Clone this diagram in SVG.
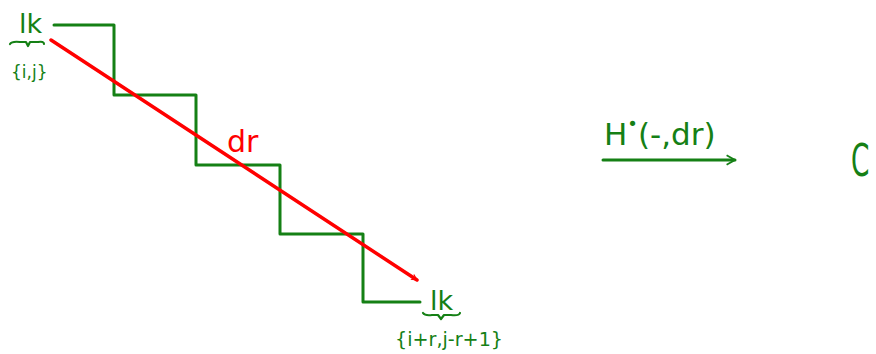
<svg xmlns="http://www.w3.org/2000/svg" width="876" height="354" viewBox="0 0 876 354">
<style>
.g{fill:none;stroke:#158015;stroke-width:3;stroke-linecap:round;stroke-linejoin:round}
.r{fill:none;stroke:#ff0000;stroke-width:3.5;stroke-linecap:round}
.tg{fill:#158015;font-family:"DejaVu Sans",sans-serif}
.tr{fill:#ff0000;font-family:"DejaVu Sans",sans-serif}
</style>
<defs>
<marker id="ar" viewBox="0 0 10 10" refX="9" refY="5" markerWidth="7" markerHeight="7" orient="auto" markerUnits="userSpaceOnUse">
<path d="M1,1 L9,5 L1,9" fill="none" stroke="#ff0000" stroke-width="1.6"/>
</marker>
<marker id="ag" viewBox="0 0 10 10" refX="9" refY="5" markerWidth="12" markerHeight="12" orient="auto" markerUnits="userSpaceOnUse">
<path d="M2,1 L9,5 L2,9" fill="none" stroke="#158015" stroke-width="1.5"/>
</marker>
</defs>
<g id="staircase">
<path class="g" d="M54,25 H114 V95 H196 V165 H280 V234 H363 V302 H420"/>
</g>
<g id="connectors">
<path class="r" d="M51,40 L417,280" marker-end="url(#ar)"/>
<path class="g" d="M603,160 H735" marker-end="url(#ag)"/>
</g>
<g id="source">
<text class="tg" x="19" y="33" font-size="27">lk</text>
<path class="g" d="M10,44 Q12,41 20,42 H26 L28,46 L30,42 H38 Q44,41 44,44" style="stroke-width:2.2"/>
<text class="tg" x="11" y="78" font-size="17">{i,j}</text>
</g>
<g id="target">
<text class="tg" x="430" y="310" font-size="27">lk</text>
<path class="g" d="M423,313 Q425,316 432,315 H438 L441,319 L444,315 H451 Q459,316 460,313" style="stroke-width:2.2"/>
<text class="tg" x="395" y="346" font-size="19" textLength="108" lengthAdjust="spacingAndGlyphs">{i+r,j-r+1}</text>
</g>
<g id="dr">
<text class="tr" x="227" y="152" font-size="30">dr</text>
</g>
<g id="map-label">
<text class="tg" x="604" y="145" font-size="31">H<tspan font-size="18" dy="-15">•</tspan><tspan dy="15">(-,dr)</tspan></text>
</g>
<g id="C">
<text class="tg" font-size="44" transform="translate(851,176) scale(0.6,1)">C</text>
</g>
</svg>
